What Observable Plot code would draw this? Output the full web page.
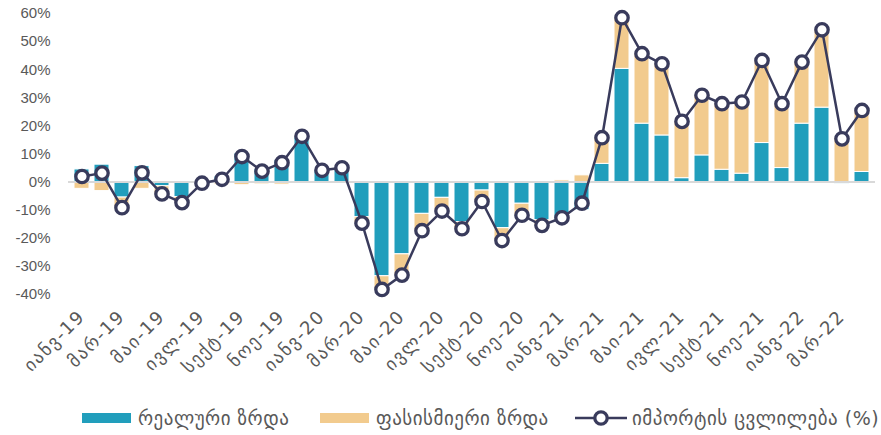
<!DOCTYPE html>
<html>
<head>
<meta charset="utf-8">
<script src="https://cdn.jsdelivr.net/npm/d3@7"></script>
<script src="https://cdn.jsdelivr.net/npm/@observablehq/plot@0.6"></script>
<style>
  html, body { margin: 0; padding: 0; background: #fff; }
  #wrap { position: relative; width: 881px; height: 435px; font-family: "Liberation Sans", "DejaVu Sans", sans-serif; }
  #legend { position: absolute; left: 0; top: 405px; width: 881px; height: 26px; color: #595959; font-family: "DejaVu Sans", sans-serif; font-size: 19px; letter-spacing: 0.5px; }
  .item { position: absolute; top: 0; height: 26px; display: flex; align-items: center; white-space: nowrap; }
  .sw { display: inline-block; width: 49px; height: 10px; margin-right: 7px; }
  #chart [aria-label="x-axis tick label"] { letter-spacing: 1.6px; }
</style>
</head>
<body>
<div id="wrap">
  <div id="chart"></div>
  <div id="legend"></div>
</div>
<script>
// Months (Jan 2019 – Apr 2022)
const months = [
  "იანვ-19","თებ-19","მარ-19","აპრ-19","მაი-19","ივნ-19","ივლ-19","აგვ-19","სექტ-19","ოქტ-19","ნოე-19","დეკ-19",
  "იანვ-20","თებ-20","მარ-20","აპრ-20","მაი-20","ივნ-20","ივლ-20","აგვ-20","სექტ-20","ოქტ-20","ნოე-20","დეკ-20",
  "იანვ-21","თებ-21","მარ-21","აპრ-21","მაი-21","ივნ-21","ივლ-21","აგვ-21","სექტ-21","ოქტ-21","ნოე-21","დეკ-21",
  "იანვ-22","თებ-22","მარ-22","აპრ-22"
];
// Real growth (%)
const realGrowth = [4.5, 6.2, -5.5, 5.7, -1.5, -5.3, 0.3, 2.0, 10.2, 4.7, 7.8, 16.0,
  4.2, 5.0, -12.5, -33.5, -25.7, -11.3, -5.6, -14.2, -3.0, -16.4, -7.7, -13.6,
  -13.3, -10.0, 6.5, 40.3, 20.8, 16.6, 1.4, 9.5, 4.4, 3.0, 13.9, 5.0,
  20.8, 26.5, -0.6, 3.6];
// Price growth (%)
const priceGrowth = [-2.4, -3.2, -3.6, -2.4, -2.7, -2.0, -0.7, -0.9, -1.1, -0.8, -0.9, 0.3,
  0.0, 0.1, -2.1, -4.7, -7.4, -6.0, -4.7, -2.4, -3.9, -4.4, -4.1, -1.8,
  0.6, 2.4, 9.3, 18.2, 24.9, 25.5, 20.2, 21.4, 23.5, 25.5, 29.4, 22.9,
  21.9, 27.7, 15.8, 21.9];
// Import change (%)
const importChange = [2.0, 3.2, -9.1, 3.3, -4.2, -7.3, -0.4, 1.0, 9.1, 3.9, 6.9, 16.3,
  4.2, 5.1, -14.6, -38.2, -33.1, -17.3, -10.3, -16.6, -6.9, -20.8, -11.8, -15.4,
  -12.7, -7.5, 15.8, 58.5, 45.7, 42.1, 21.6, 30.9, 27.9, 28.5, 43.3, 27.9,
  42.7, 54.2, 15.4, 25.5];
const yTicks = [-40, -30, -20, -10, 0, 10, 20, 30, 40, 50, 60];
const seriesNames = ["რეალური ზრდა", "ფასისმიერი ზრდა", "იმპორტის ცვლილება (%)"];
const colors = ["#219EBC", "#F2CB8E", "#393B5C"];

const bars = [];
months.forEach((m, i) => {
  bars.push({month: m, series: seriesNames[0], value: realGrowth[i]});
  bars.push({month: m, series: seriesNames[1], value: priceGrowth[i]});
});
const lineData = months.map((m, i) => ({month: m, value: importChange[i]}));

const chart = Plot.plot({
  width: 881,
  height: 392,
  marginTop: 13,
  marginBottom: 98,
  marginLeft: 68,
  marginRight: 6,
  style: {fontFamily: "'Liberation Sans', 'DejaVu Sans', sans-serif", color: "#595959", background: "#fff"},
  x: {domain: months, paddingInner: 0.25, paddingOuter: 0.125, axis: null, label: null},
  y: {domain: [-40, 60], axis: null, label: null},
  color: {domain: seriesNames.slice(0, 2), range: colors.slice(0, 2)},
  marks: [
    Plot.barY(bars, {x: "month", y: "value", fill: "series", stroke: "white", strokeWidth: 1}),
    Plot.ruleY([0], {stroke: "#D9D9D9", strokeWidth: 2}),
    Plot.line(lineData, {x: "month", y: "value", stroke: colors[2], strokeWidth: 2.5}),
    Plot.dot(lineData, {x: "month", y: "value", r: 6.2, fill: "white", stroke: colors[2], strokeWidth: 3.3}),
    Plot.axisY({ticks: yTicks, tickFormat: d => d + "%", tickSize: 0, tickPadding: 18, fontSize: 15, fill: "#595959", label: null}),
    Plot.axisX({ticks: months.filter((d, i) => i % 2 === 0), tickRotate: -45, tickSize: 0, tickPadding: 19,
      fontSize: 18, fill: "#595959", fontFamily: "'DejaVu Sans', sans-serif", label: null})
  ]
});
document.getElementById("chart").appendChild(chart);

// Legend
const legend = document.getElementById("legend");
const items = [
  {left: 82, html: `<span class="sw" style="background:${colors[0]}"></span>${seriesNames[0]}`},
  {left: 320, html: `<span class="sw" style="background:${colors[1]}"></span>${seriesNames[1]}`},
  {left: 575, html: `<svg width="52" height="20" style="margin-right:5px"><line x1="0" x2="52" y1="10" y2="10" stroke="${colors[2]}" stroke-width="2.5"/><circle cx="26" cy="10" r="6.2" fill="white" stroke="${colors[2]}" stroke-width="3.3"/></svg>${seriesNames[2]}`}
];
items.forEach(it => {
  const d = document.createElement("div");
  d.className = "item";
  d.style.left = it.left + "px";
  d.innerHTML = it.html;
  legend.appendChild(d);
});
</script>
</body>
</html>
